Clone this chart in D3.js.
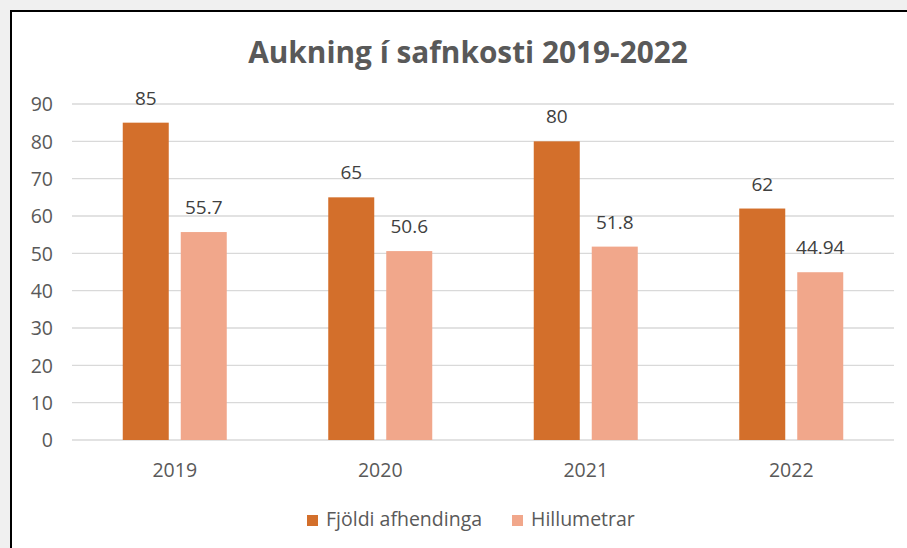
<!DOCTYPE html>
<html><head><meta charset="utf-8">
<script src="https://cdn.jsdelivr.net/npm/d3@7"></script>
<style>
html,body{margin:0;padding:0;background:#f0f0f0;}
svg{display:block;}
</style></head>
<body>
<svg id="c" width="907" height="548"></svg>
<script>
const categories = ["2019", "2020", "2021", "2022"];
const seriesNames = ["Fjöldi afhendinga", "Hillumetrar"];
const fjoldi = [85, 65, 80, 62];
const hillumetrar = [55.7, 50.6, 51.8, 44.94];
const yTicks = [0, 10, 20, 30, 40, 50, 60, 70, 80, 90];
const title = "Aukning í safnkosti 2019-2022";
const colors = ["#D36F2B", "#F1A78B"];

const svg = d3.select("#c");
const font = "'Open Sans', 'Liberation Sans', sans-serif";

// chart area background and frame
svg.append("rect").attr("x", 11).attr("y", 11).attr("width", 907).attr("height", 560)
  .attr("fill", "#fff").attr("stroke", "#000").attr("stroke-width", 2);

const x0 = d3.scaleBand().domain(categories).range([72, 894]).paddingInner(0).paddingOuter(0);
const y = d3.scaleLinear().domain([0, 90]).range([440, 104]);

// gridlines
svg.append("g").selectAll("line").data(yTicks).join("line")
  .attr("x1", 72).attr("x2", 894)
  .attr("y1", d => y(d)).attr("y2", d => y(d))
  .attr("stroke", "#d9d9d9").attr("stroke-width", 1.3);

// y axis labels
const yAxis = d3.axisLeft(y).tickValues(yTicks).tickSize(0).tickPadding(0);
const gy = svg.append("g").attr("transform", "translate(53,0)").call(yAxis);
gy.select(".domain").remove();
gy.selectAll("text").attr("font-family", font).attr("font-size", 19.5).attr("fill", "#595959").attr("dy", "0.35em");

// x axis labels
const xAxis = d3.axisBottom(x0).tickSize(0).tickPadding(0);
const gx = svg.append("g").attr("transform", "translate(0,477)").call(xAxis);
gx.select(".domain").remove();
gx.selectAll("text").attr("font-family", font).attr("font-size", 19.5).attr("fill", "#595959").attr("dy", "0");

const barW = 46, gap = 12;
const series = [fjoldi, hillumetrar];
const data = [];
categories.forEach((c, i) => {
  series.forEach((s, k) => {
    const cx = x0(c) + x0.bandwidth() / 2;
    const xl = k === 0 ? cx - gap / 2 - barW : cx + gap / 2;
    data.push({c, k, v: s[i], x: xl});
  });
});

svg.append("g").selectAll("rect").data(data).join("rect")
  .attr("x", d => d.x).attr("width", barW)
  .attr("y", d => y(d.v)).attr("height", d => y(0) - y(d.v))
  .attr("fill", d => colors[d.k]);

svg.append("g").selectAll("text").data(data).join("text")
  .attr("x", d => d.x + barW / 2).attr("y", d => y(d.v) - 18)
  .attr("text-anchor", "middle")
  .attr("font-family", font).attr("font-size", 19).attr("fill", "#404040")
  .text(d => String(d.v));

// title
svg.append("text").attr("x", 468).attr("y", 63).attr("text-anchor", "middle")
  .attr("font-family", font).attr("font-weight", "bold").attr("font-size", 29.8)
  .attr("fill", "#595959").text(title);

// legend
const legendX = [307, 512];
const lg = svg.append("g").selectAll("g").data(seriesNames).join("g")
  .attr("transform", (d, i) => `translate(${legendX[i]},526)`);
lg.append("rect").attr("x", 0).attr("y", -11).attr("width", 11).attr("height", 11)
  .attr("fill", (d, i) => colors[i]);
lg.append("text").attr("x", 19).attr("y", 0)
  .attr("font-family", font).attr("font-size", 19.5).attr("fill", "#595959")
  .text(d => d);
</script>
</body></html>
